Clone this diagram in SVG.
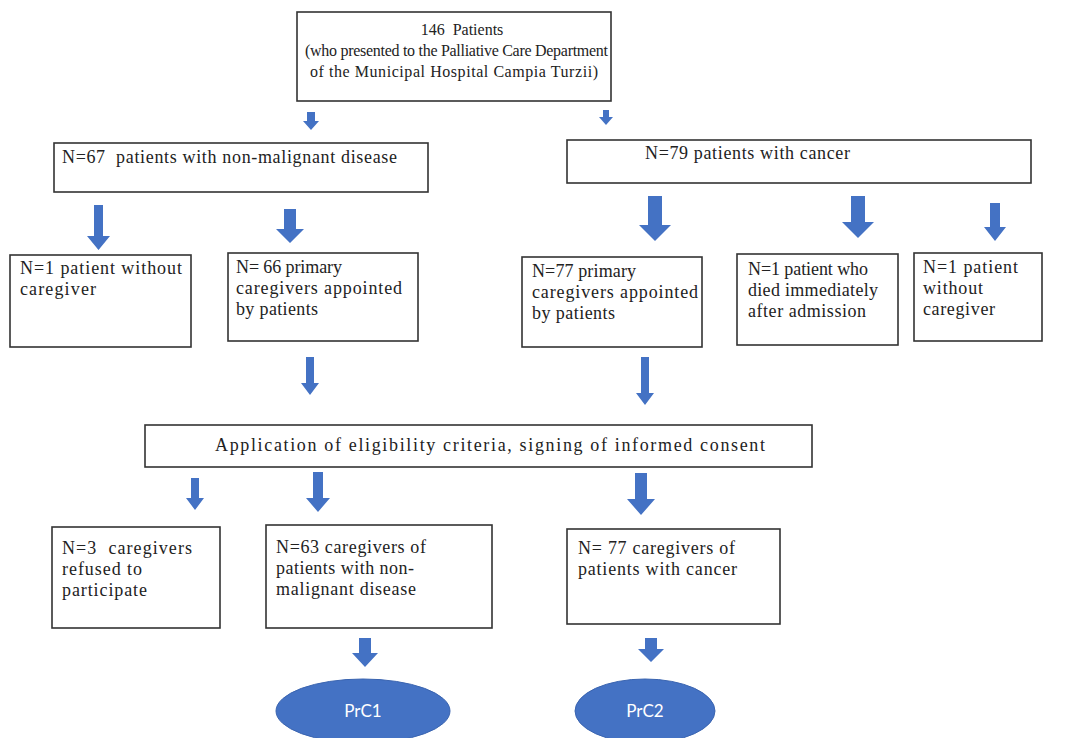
<svg xmlns="http://www.w3.org/2000/svg" width="1069" height="738" viewBox="0 0 1069 738">
<style>
.box{fill:#fff;stroke:#333;stroke-width:1.6}
.t{font-family:"Liberation Serif","Times New Roman",serif;font-size:18px;fill:#222}
.s{font-size:16px}
.arr{fill:#4472C4}
.ell{fill:#4472C4;stroke:#3a64b0;stroke-width:1}
.el{font-family:Lato,"Liberation Sans",sans-serif;font-size:17px;fill:#fff;text-anchor:middle}
</style>
<rect width="1069" height="738" fill="#fff"/>
<g id="connectors">
<path class="arr" d="M307,112 h8 v9 h4 l-8,9 l-8,-9 h4 z"/>
<path class="arr" d="M603,110 h6 v7 h4 l-7,8 l-7,-8 h4 z"/>
<path class="arr" d="M94,205 h9 v31 h7 l-11.5,14 l-11.5,-14 h7 z"/>
<path class="arr" d="M284,209 h12 v20 h8 l-14,14 l-14,-14 h8 z"/>
<path class="arr" d="M648,196 h14 v29 h9 l-16,16 l-16,-16 h9 z"/>
<path class="arr" d="M851,196 h14 v26 h9 l-16,16 l-16,-16 h9 z"/>
<path class="arr" d="M990,203 h10 v24 h6 l-11,14 l-11,-14 h6 z"/>
<path class="arr" d="M306,357 h8 v26 h5 l-9,12 l-9,-12 h5 z"/>
<path class="arr" d="M641,357 h8 v36 h5 l-9,12 l-9,-12 h5 z"/>
<path class="arr" d="M191,478 h8 v20 h5 l-9,12 l-9,-12 h5 z"/>
<path class="arr" d="M313,472 h10 v26 h7 l-12,14 l-12,-14 h7 z"/>
<path class="arr" d="M635,473 h12 v26 h8 l-14,16 l-14,-16 h8 z"/>
<path class="arr" d="M359,638 h12 v15 h7 l-13,14 l-13,-14 h7 z"/>
<path class="arr" d="M645,638 h12 v11 h7 l-13,13 l-13,-13 h7 z"/>
</g>
<g id="n-top">
<rect class="box" x="297" y="12" width="314" height="89"/>
<text class="t s" x="462" y="35" text-anchor="middle" xml:space="preserve">146  Patients</text>
<text class="t s" x="305" y="56" textLength="303">(who presented to the Palliative Care Department</text>
<text class="t s" x="310" y="77" textLength="288">of the Municipal Hospital Campia Turzii)</text>
</g>
<g id="n-67">
<rect class="box" x="54" y="143" width="374" height="49"/>
<text class="t" x="62" y="163" textLength="335" xml:space="preserve">N=67  patients with non-malignant disease</text>
</g>
<g id="n-79">
<rect class="box" x="567" y="140" width="464" height="43"/>
<text class="t" x="645" y="159" textLength="205">N=79 patients with cancer</text>
</g>
<g id="n-1a">
<rect class="box" x="10" y="255" width="181" height="92"/>
<text class="t" x="20" y="274" textLength="162">N=1 patient without</text>
<text class="t" x="20" y="295" textLength="76">caregiver</text>
</g>
<g id="n-66">
<rect class="box" x="228" y="253" width="190" height="88"/>
<text class="t" x="236" y="273" textLength="106">N= 66 primary</text>
<text class="t" x="236" y="294" textLength="166">caregivers appointed</text>
<text class="t" x="236" y="315" textLength="82">by patients</text>
</g>
<g id="n-77">
<rect class="box" x="522" y="257" width="180" height="90"/>
<text class="t" x="532" y="277" textLength="104">N=77 primary</text>
<text class="t" x="532" y="298" textLength="166">caregivers appointed</text>
<text class="t" x="532" y="319" textLength="83">by patients</text>
</g>
<g id="n-died">
<rect class="box" x="737" y="254" width="161" height="91"/>
<text class="t" x="748" y="275" textLength="120">N=1 patient who</text>
<text class="t" x="748" y="296" textLength="130">died immediately</text>
<text class="t" x="748" y="317" textLength="118">after admission</text>
</g>
<g id="n-1b">
<rect class="box" x="914" y="253" width="128" height="88"/>
<text class="t" x="923" y="273" textLength="95">N=1 patient</text>
<text class="t" x="923" y="294" textLength="60">without</text>
<text class="t" x="923" y="315" textLength="72">caregiver</text>
</g>
<g id="n-elig">
<rect class="box" x="145" y="425" width="667" height="42"/>
<text class="t" x="215" y="451" textLength="550">Application of eligibility criteria, signing of informed consent</text>
</g>
<g id="n-3">
<rect class="box" x="52" y="527" width="168" height="101"/>
<text class="t" x="62" y="554" textLength="130" xml:space="preserve">N=3  caregivers</text>
<text class="t" x="62" y="575" textLength="80">refused to</text>
<text class="t" x="62" y="596" textLength="85">participate</text>
</g>
<g id="n-63">
<rect class="box" x="266" y="525" width="226" height="103"/>
<text class="t" x="276" y="553" textLength="150">N=63 caregivers of</text>
<text class="t" x="276" y="574" textLength="138">patients with non-</text>
<text class="t" x="276" y="595" textLength="140">malignant disease</text>
</g>
<g id="n-77c">
<rect class="box" x="567" y="529" width="213" height="95"/>
<text class="t" x="578" y="554" textLength="157">N= 77 caregivers of</text>
<text class="t" x="578" y="575" textLength="159">patients with cancer</text>
</g>
<g id="n-prc1">
<ellipse class="ell" cx="363" cy="711" rx="87" ry="32"/>
<text class="el" x="363" y="717">PrC1</text>
</g>
<g id="n-prc2">
<ellipse class="ell" cx="645" cy="711" rx="70" ry="32"/>
<text class="el" x="645" y="717">PrC2</text>
</g>
</svg>
